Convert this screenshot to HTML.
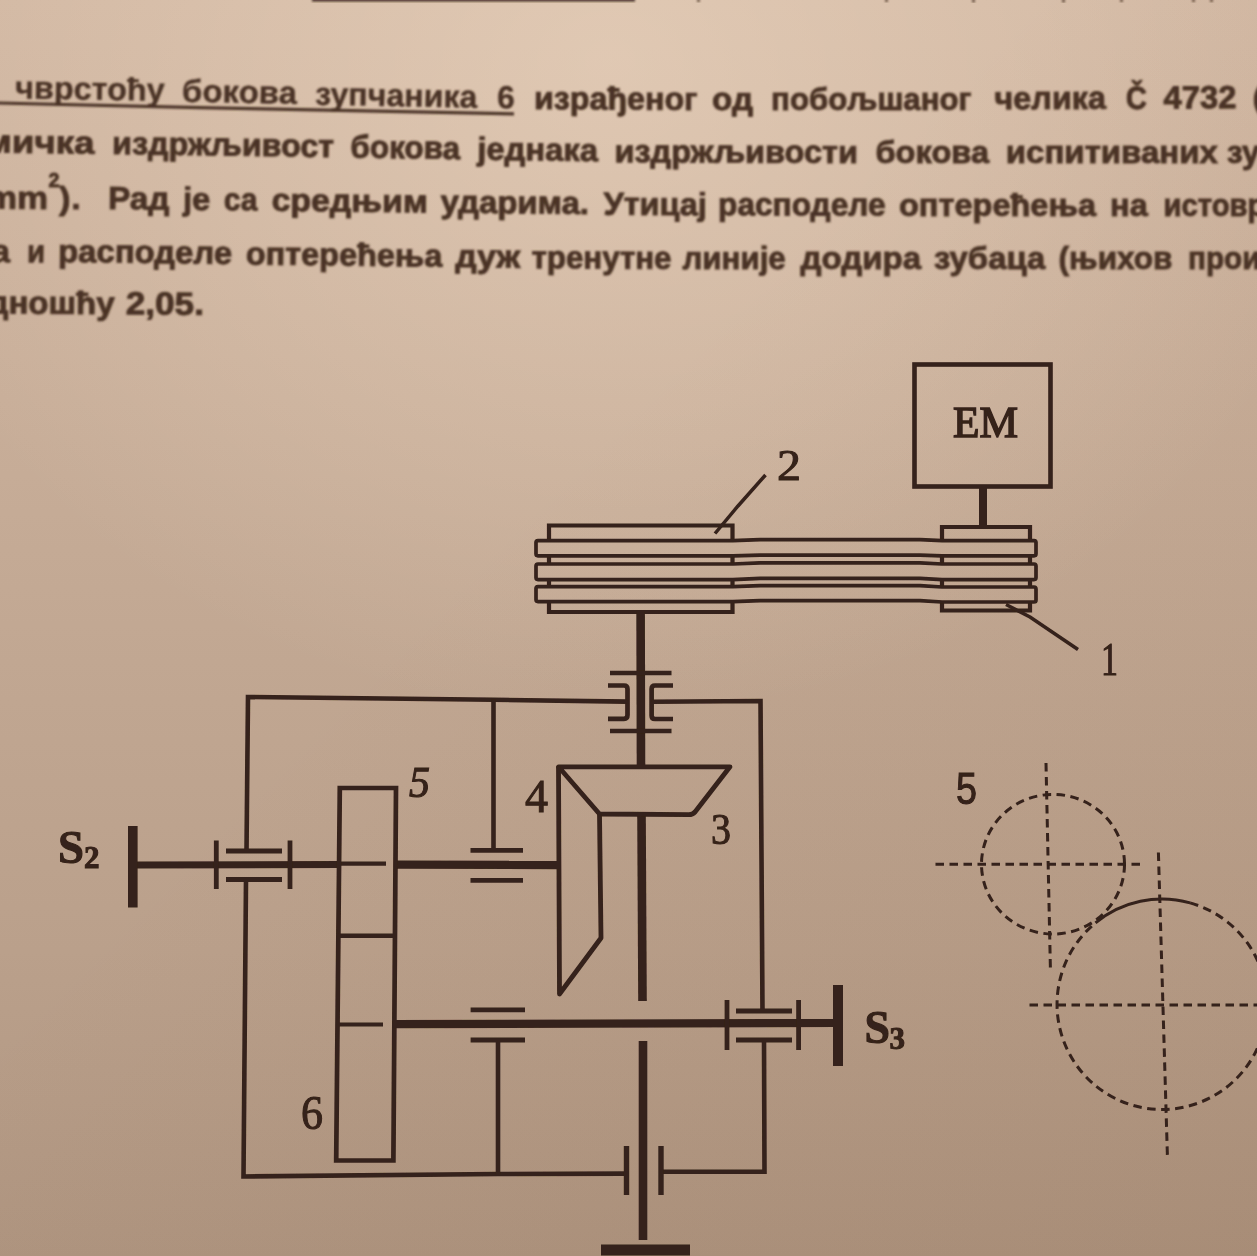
<!DOCTYPE html>
<html lang="sr"><head><meta charset="utf-8"><title>Задатак</title>
<style>
html,body{margin:0;padding:0;}
body{width:1257px;height:1256px;overflow:hidden;position:relative;background:#c2a58c;font-family:"Liberation Sans",sans-serif;}
#bg{position:absolute;left:0;top:0;width:1257px;height:1256px;
 background:
  radial-gradient(ellipse 760px 660px at 610px 60px, rgba(255,236,214,0.34), rgba(255,236,214,0) 100%),
  linear-gradient(to bottom right, rgba(90,50,20,0) 40%, rgba(90,50,20,0.085) 100%),
  linear-gradient(180deg, rgb(209,183,162) 0px, rgb(200,174,153) 400px, rgb(192,166,145) 700px, rgb(186,160,139) 950px, rgb(181,155,134) 1100px, rgb(175,149,128) 1256px);}
svg{position:absolute;left:0;top:0;}
.t text{font-family:"Liberation Sans",sans-serif;font-weight:bold;font-size:32px;fill:#4a3325;stroke:#4a3325;stroke-width:0.9px;}
.s text{font-family:"Liberation Serif",serif;fill:#35211a;stroke:#35211a;stroke-width:1px;}
</style></head>
<body>
<div id="bg"></div>
<svg width="1257" height="1256" viewBox="0 0 1257 1256">
<defs>
 <filter id="b1" x="-2%" y="-2%" width="104%" height="104%"><feGaussianBlur stdDeviation="0.95"/></filter>
 <filter id="b2" x="-2%" y="-2%" width="104%" height="104%"><feGaussianBlur stdDeviation="0.55"/></filter>
</defs>

<!-- top fragments -->
<g filter="url(#b1)">
 <rect x="312" y="-2" width="323" height="3.6" fill="#35211a" opacity="0.85"/>
 <g fill="#4a3325" opacity="0.7">
  <rect x="697" y="-1" width="3" height="3"/><rect x="885" y="-1" width="3" height="3"/><rect x="972" y="-1" width="3" height="3.5"/>
  <rect x="1062" y="-1" width="3" height="3.5"/><rect x="1120" y="-1" width="3" height="3"/><rect x="1192" y="-1" width="3" height="3"/><rect x="1210" y="-1" width="3" height="3"/>
 </g>
</g>

<!-- paragraph text -->
<g class="t" filter="url(#b1)">
<text x="15.0" y="98.5" textLength="149.5" lengthAdjust="spacingAndGlyphs" transform="rotate(0.9 15.0 98.5)" style="stroke-width:0.35px">чврстоћу</text>
<text x="181.8" y="101.7" textLength="115.0" lengthAdjust="spacingAndGlyphs" transform="rotate(1.1 181.8 101.7)" style="stroke-width:0.35px">бокова</text>
<text x="315.0" y="104.7" textLength="162.2" lengthAdjust="spacingAndGlyphs" transform="rotate(1.1 315.0 104.7)" style="stroke-width:0.35px">зупчаника</text>
<text x="497.1" y="108.3" textLength="17.7" lengthAdjust="spacingAndGlyphs" transform="rotate(0.6 497.1 108.3)" style="stroke-width:0.35px">6</text>
<text x="534.0" y="109.1" textLength="163.5" lengthAdjust="spacingAndGlyphs" transform="rotate(0.3 534.0 109.1)">израђеног</text>
<text x="712.1" y="109.9" textLength="40.9" lengthAdjust="spacingAndGlyphs" transform="rotate(0.1 712.1 109.9)">од</text>
<text x="771.1" y="110.2" textLength="200.4" lengthAdjust="spacingAndGlyphs">побољшаног</text>
<text x="994.5" y="109.3" textLength="111.5" lengthAdjust="spacingAndGlyphs" transform="rotate(-0.3 994.5 109.3)">челика</text>
<text x="1126.0" y="108.9" textLength="20.9" lengthAdjust="spacingAndGlyphs" transform="rotate(-0.3 1126.0 108.9)">Č</text>
<text x="1163.4" y="108.5" textLength="73.0" lengthAdjust="spacingAndGlyphs" transform="rotate(-0.3 1163.4 108.5)">4732</text>
<text x="1252.5" y="108.2" textLength="12.0" lengthAdjust="spacingAndGlyphs">(</text>
<text x="-15.5" y="152.3" textLength="109.9" lengthAdjust="spacingAndGlyphs" transform="rotate(0.7 -15.5 152.3)">мичка</text>
<text x="112.1" y="154.0" textLength="221.8" lengthAdjust="spacingAndGlyphs" transform="rotate(0.8 112.1 154.0)">издржљивост</text>
<text x="350.2" y="157.6" textLength="109.9" lengthAdjust="spacingAndGlyphs" transform="rotate(0.8 350.2 157.6)">бокова</text>
<text x="477.2" y="159.7" textLength="120.8" lengthAdjust="spacingAndGlyphs" transform="rotate(0.7 477.2 159.7)">једнака</text>
<text x="614.5" y="162.2" textLength="243.4" lengthAdjust="spacingAndGlyphs" transform="rotate(0.2 614.5 162.2)">издржљивости</text>
<text x="875.5" y="162.6" textLength="113.5" lengthAdjust="spacingAndGlyphs">бокова</text>
<text x="1005.8" y="162.8" textLength="212.1" lengthAdjust="spacingAndGlyphs">испитиваних</text>
<text x="1227.0" y="162.6" textLength="32.5" lengthAdjust="spacingAndGlyphs">зу</text>
<text x="108.0" y="209.0" textLength="61.5" lengthAdjust="spacingAndGlyphs" transform="rotate(0.6 108.0 209.0)">Рад</text>
<text x="183.0" y="209.8" textLength="27.3" lengthAdjust="spacingAndGlyphs" transform="rotate(0.6 183.0 209.8)">је</text>
<text x="223.8" y="210.2" textLength="33.6" lengthAdjust="spacingAndGlyphs" transform="rotate(0.6 223.8 210.2)">са</text>
<text x="271.5" y="210.8" textLength="156.4" lengthAdjust="spacingAndGlyphs" transform="rotate(0.6 271.5 210.8)">средњим</text>
<text x="440.5" y="212.6" textLength="148.5" lengthAdjust="spacingAndGlyphs" transform="rotate(0.6 440.5 212.6)">ударима.</text>
<text x="603.5" y="214.7" textLength="103.3" lengthAdjust="spacingAndGlyphs" transform="rotate(0.4 603.5 214.7)">Утицај</text>
<text x="718.1" y="215.3" textLength="167.4" lengthAdjust="spacingAndGlyphs" transform="rotate(0.1 718.1 215.3)">расподеле</text>
<text x="899.0" y="215.5" textLength="197.0" lengthAdjust="spacingAndGlyphs">оптерећења</text>
<text x="1110.1" y="215.5" textLength="37.7" lengthAdjust="spacingAndGlyphs">на</text>
<text x="1163.5" y="215.6" textLength="102.0" lengthAdjust="spacingAndGlyphs">истовр</text>
<text x="-8.5" y="261.9" textLength="18.4" lengthAdjust="spacingAndGlyphs" transform="rotate(0.6 -8.5 261.9)">а</text>
<text x="26.9" y="262.2" textLength="18.0" lengthAdjust="spacingAndGlyphs" transform="rotate(0.6 26.9 262.2)">и</text>
<text x="58.0" y="261.9" textLength="174.0" lengthAdjust="spacingAndGlyphs" transform="rotate(0.7 58.0 261.9)">расподеле</text>
<text x="245.7" y="264.4" textLength="196.6" lengthAdjust="spacingAndGlyphs" transform="rotate(0.7 245.7 264.4)">оптерећења</text>
<text x="455.3" y="267.0" textLength="64.8" lengthAdjust="spacingAndGlyphs" transform="rotate(0.6 455.3 267.0)">дуж</text>
<text x="531.5" y="268.2" textLength="140.0" lengthAdjust="spacingAndGlyphs" transform="rotate(0.3 531.5 268.2)">тренутне</text>
<text x="682.5" y="268.9" textLength="103.2" lengthAdjust="spacingAndGlyphs" transform="rotate(0.1 682.5 268.9)">линије</text>
<text x="800.5" y="268.9" textLength="120.7" lengthAdjust="spacingAndGlyphs">додира</text>
<text x="934.1" y="268.8" textLength="111.2" lengthAdjust="spacingAndGlyphs">зубаца</text>
<text x="1058.5" y="268.5" textLength="114.0" lengthAdjust="spacingAndGlyphs">(њихов</text>
<text x="1188.0" y="268.7" textLength="72.5" lengthAdjust="spacingAndGlyphs">прои</text>
<text x="-12.5" y="313.4" textLength="127.0" lengthAdjust="spacingAndGlyphs" transform="rotate(0.4 -12.5 313.4)">дношћу</text>
<text x="125.8" y="314.3" textLength="78.1" lengthAdjust="spacingAndGlyphs" transform="rotate(0.4 125.8 314.3)">2,05.</text>
<text x="-14" y="208.6" textLength="62" lengthAdjust="spacingAndGlyphs" transform="rotate(0.5 0 208.6)">mm</text>
<text x="48.6" y="187" style="font-size:21px" textLength="11" lengthAdjust="spacingAndGlyphs">2</text>
<text x="59" y="208.8" textLength="11.5" lengthAdjust="spacingAndGlyphs">)</text>
<text x="71.5" y="209" textLength="9" lengthAdjust="spacingAndGlyphs">.</text>
 <path d="M-2 103.0 L200 107.6 L514 113.8" stroke="#4a3325" stroke-width="3.2" fill="none"/>
</g>

<!-- diagram -->
<g filter="url(#b2)" stroke="#35211a" fill="none" stroke-linecap="butt" stroke-linejoin="miter">

 <!-- EM motor -->
 <rect x="914.5" y="364.5" width="136" height="122" stroke-width="4.6"/>
 <line x1="983" y1="486" x2="983" y2="528" stroke-width="8"/>
 <!-- right (small) pulley 1 : pieces visible between belts -->
 <path d="M942 541 V527 H1030 V541 M942 555.5 V564 M1030 555.5 V564 M942 579 V587 M1030 579 V587 M942 601 V610.5 H1030 V601" stroke-width="4.2"/>
 <!-- left (large) pulley 2 -->
 <path d="M549 541 V525.5 H732.5 V541 M549 555.5 V564 M732.5 555.5 V564 M549 579 V587 M732.5 579 V587 M549 601 V612 H732.5 V601" stroke-width="4.2"/>
 <!-- belts -->
 <path d="M538 540.6 H733 L760 539.6 H920 L942 540.6 H1034 Q1036 540.6 1036 542.6 V553.8 Q1036 555.8 1034 555.8 H942 L920 555.2 H760 L733 555.8 H538 Q536 555.8 536 553.8 V542.6 Q536 540.6 538 540.6 Z" stroke-width="3.7"/>
 <path d="M538 564 H733 L760 562.8 H920 L942 564 H1034 Q1036 564 1036 566 V577.6 Q1036 579.6 1034 579.6 H942 L920 578.4 H760 L733 579.6 H538 Q536 579.6 536 577.6 V566 Q536 564 538 564 Z" stroke-width="3.7"/>
 <path d="M538 586.6 H733 L760 585.6 H920 L942 587 H1034 Q1036 587 1036 589 V600 Q1036 602 1034 602 H942 L920 600.6 H760 L733 601.6 H538 Q536 601.6 536 599.6 V588.6 Q536 586.6 538 586.6 Z" stroke-width="3.7"/>
 <!-- leaders -->
 <path d="M715 533.5 L738 506 L765.5 475" stroke-width="3.5"/>
 <path d="M1006 604.5 L1030 617 L1078 649.5" stroke-width="3.5"/>

 <!-- shaft I (vertical) -->
 <line x1="640.6" y1="612" x2="641" y2="768" stroke-width="8.6"/>
 <line x1="641.5" y1="815" x2="642.5" y2="1001" stroke-width="8.6"/>
 <line x1="643" y1="1041" x2="643" y2="1240" stroke-width="8.6"/>
 <line x1="601" y1="1250" x2="690" y2="1250" stroke-width="11"/>
 <!-- top bearing -->
 <path d="M610 673 H671.5 M610 731 H671.5" stroke-width="4.7"/>
 <path d="M608 685.5 H624 Q627.5 685.5 627.5 689 V715 Q627.5 718.8 624 718.8 H608" stroke-width="4.7"/>
 <path d="M673 685.5 H655 Q651.6 685.5 651.6 689 V715.5 Q651.6 719 655 719 H673" stroke-width="4.7"/>

 <!-- housing -->
 <path d="M627 701.6 L493.5 699.8 L248 697 L246.5 851" stroke-width="4.6"/>
 <path d="M246 879.5 L243.5 1176.5 L498 1174 L626 1173.6" stroke-width="4.6"/>
 <path d="M652 701.8 L760.5 701 L762.5 1011" stroke-width="4.6"/>
 <path d="M764 1040 L764.5 1171.6 L661 1171.8" stroke-width="4.6"/>
 <path d="M493.5 699.8 V850" stroke-width="4.6"/>
 <path d="M498 1040 V1174" stroke-width="4.6"/>
 <!-- bottom bearing (vertical plates) -->
 <path d="M626.5 1146 V1195 M661 1146 V1195" stroke-width="5.4"/>

 <!-- bevel gears 3 & 4 -->
 <path d="M558.5 766.8 H730 L695 812 Q692.5 814.6 689 814.6 L599.5 814 Z" stroke-width="4.8" stroke-linejoin="round"/>
 <path d="M558.5 766.8 L559.5 994 L601 938 L599.5 814" stroke-width="4.8" stroke-linejoin="round"/>

 <!-- shaft II -->
 <line x1="137" y1="865" x2="340" y2="864.6" stroke-width="7"/>
 <line x1="396" y1="864.6" x2="558.5" y2="865" stroke-width="8.4"/>
 <line x1="340" y1="863.6" x2="386" y2="863.6" stroke-width="4.2"/>
 <line x1="132.8" y1="826" x2="132.8" y2="907.5" stroke-width="9.6"/>
 <!-- left bearing -->
 <path d="M216.3 840.5 V889 M290 840.5 V889" stroke-width="4.8"/>
 <path d="M226 851 H282 M226 879.5 H282" stroke-width="4.8"/>
 <!-- middle bearing upper -->
 <path d="M470.5 850.3 H523 M470.5 880.4 H523" stroke-width="4.8"/>

 <!-- gears 5 & 6 -->
 <path d="M339.8 788 H396 L393.4 1160.5 H336.2 Z" stroke-width="4.7"/>
 <line x1="338.5" y1="935.7" x2="395" y2="935.7" stroke-width="4.6"/>
 <line x1="337" y1="1024.5" x2="383" y2="1024.5" stroke-width="4.2"/>

 <!-- shaft III -->
 <line x1="394" y1="1024.2" x2="836" y2="1023" stroke-width="8.2"/>
 <line x1="838" y1="985" x2="838" y2="1066" stroke-width="10"/>
 <!-- middle bearing lower -->
 <path d="M470.6 1009.8 H525 M470.6 1040 H525" stroke-width="4.8"/>
 <!-- right bearing -->
 <path d="M727 1000 V1050 M798.6 1000 V1050" stroke-width="4.8"/>
 <path d="M736 1011 H792 M736 1040 H792" stroke-width="4.8"/>

 <!-- pitch circles -->
 <g stroke-width="3" stroke-dasharray="8.5 5.5">
  <ellipse cx="1053" cy="864.2" rx="71.5" ry="69.8"/>
  <path d="M1046 763 L1050.5 973"/>
  <path d="M935.5 864.2 H1143"/>
  <path d="M1158.4 852.5 L1167.5 1159"/>
  <path d="M1029.5 1005 H1257"/>
  <path d="M1190.1 902.9 A105.0 105.2 0 1 1 1095.5 922.9"/>
 </g>
 <path d="M1095.5 922.9 A105.0 105.2 0 0 1 1190.1 902.9" stroke-width="3"/>

</g>

<g class="s" filter="url(#b2)">

 <text x="953" y="437" font-size="44" textLength="65" lengthAdjust="spacingAndGlyphs" style="stroke-width:1.5px">EM</text>
 <text x="777" y="480" font-size="44" textLength="24" lengthAdjust="spacingAndGlyphs">2</text>
 <text x="1101" y="675" font-size="46" textLength="17" lengthAdjust="spacingAndGlyphs">1</text>
 <text x="409" y="797" font-size="44" font-style="italic" textLength="21" lengthAdjust="spacingAndGlyphs">5</text>
 <text x="525" y="812" font-size="46" textLength="23" lengthAdjust="spacingAndGlyphs">4</text>
 <text x="711" y="844" font-size="44" textLength="20" lengthAdjust="spacingAndGlyphs">3</text>
 <text x="301" y="1129" font-size="48" textLength="22" lengthAdjust="spacingAndGlyphs">6</text>
 <text x="58" y="862.5" font-size="47" font-weight="bold" textLength="26" lengthAdjust="spacingAndGlyphs">S</text>
 <text x="84" y="868" font-size="31" font-weight="bold" textLength="15.5" lengthAdjust="spacingAndGlyphs">2</text>
 <text x="864.5" y="1042.5" font-size="46" font-weight="bold" textLength="25.5" lengthAdjust="spacingAndGlyphs">S</text>
 <text x="889.5" y="1049" font-size="31" font-weight="bold" textLength="15.5" lengthAdjust="spacingAndGlyphs">3</text>
 <text x="956" y="804" font-size="44" textLength="21" lengthAdjust="spacingAndGlyphs" style="font-family:'Liberation Sans',sans-serif">5</text>

</g>
</svg>
</body></html>
